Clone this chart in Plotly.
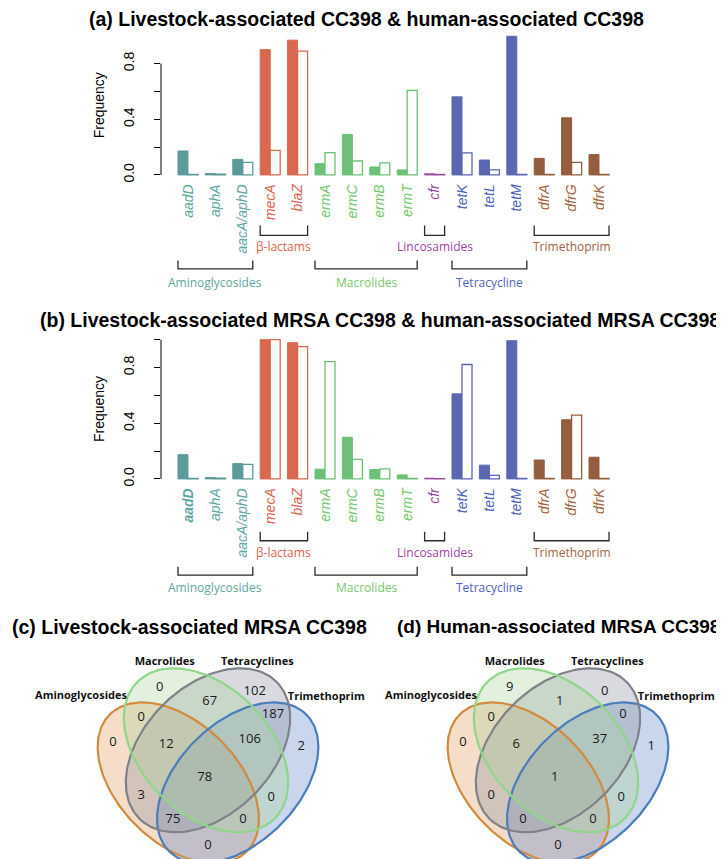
import numpy as np
import plotly.graph_objects as go

W, H = 724, 859

# ---------------- data ----------------
genes = ["aadD", "aphA", "aacA/aphD", "mecA", "blaZ", "ermA", "ermC", "ermB",
         "ermT", "cfr", "tetK", "tetL", "tetM", "dfrA", "dfrG", "dfrK"]
gene_class = ["Aminoglycosides"] * 3 + ["β-lactams"] * 2 + ["Macrolides"] * 4 + \
             ["Lincosamides"] + ["Tetracycline"] * 3 + ["Trimethoprim"] * 3

# (a) livestock-associated (filled) vs human-associated (open)
la_a = [0.172, 0.010, 0.112, 0.900, 0.968, 0.081, 0.291, 0.057,
        0.036, 0.008, 0.561, 0.107, 0.996, 0.119, 0.410, 0.146]
ha_a = [0.004, 0.005, 0.090, 0.176, 0.889, 0.160, 0.100, 0.086,
        0.607, 0.003, 0.158, 0.036, 0.003, 0.003, 0.090, 0.003]
# (b) MRSA only
la_b = [0.174, 0.010, 0.110, 1.000, 0.979, 0.070, 0.299, 0.067,
        0.029, 0.005, 0.611, 0.099, 0.993, 0.136, 0.425, 0.156]
ha_b = [0.003, 0.005, 0.105, 1.000, 0.950, 0.843, 0.141, 0.072,
        0.003, 0.002, 0.822, 0.026, 0.003, 0.003, 0.458, 0.003]

y_tickvals_a = [0.0, 0.2, 0.4, 0.6, 0.8]
y_ticktext_a = ["0.0", "", "0.4", "", "0.8"]
y_tickvals_b = [0.0, 0.2, 0.4, 0.6, 0.8, 1.0]
y_ticktext_b = ["0.0", "", "0.4", "", "0.8", ""]

# Venn regions and counts
venn_sets = ["Aminoglycosides", "Macrolides", "Tetracyclines", "Trimethoprim"]
venn_regions = ["M", "T", "MT", "TR", "AM", "A", "AMT", "MTR", "R", "AMTR",
                "AT", "MR", "ATR", "AMR", "AR"]
counts_c = [0, 102, 67, 187, 0, 0, 12, 106, 2, 78, 3, 0, 75, 0, 0]
counts_d = [9, 0, 1, 0, 0, 0, 6, 37, 1, 1, 0, 0, 0, 0, 0]

# ---------------- styles ----------------
bar_col = {"Aminoglycosides": "#5b9a9a", "β-lactams": "#d8684e", "Macrolides": "#6cc177",
           "Lincosamides": "#9a4f9c", "Tetracycline": "#5c67b2", "Trimethoprim": "#955d3e"}
lab_col = {"Aminoglycosides": "#5fa7a1", "β-lactams": "#e0634e", "Macrolides": "#78c86f",
           "Lincosamides": "#9b469f", "Tetracycline": "#4f5fbf", "Trimethoprim": "#a0643f"}
upper_row = {"β-lactams", "Lincosamides", "Trimethoprim"}

SANS = "Liberation Sans, Arial, sans-serif"
OPEN = "Open Sans, sans-serif"


def X(p):
    return p / W


def Y(p):
    return 1 - p / H


fig = go.Figure()
idx = list(range(len(genes)))
cols = [bar_col[c] for c in gene_class]
BW = 0.365
X_RANGE = [-0.985, 15.985]

panels = [
    dict(xa="x", ya="y", la=la_a, ha=ha_a, top=22.2, bot=172.9,
         tv=y_tickvals_a, tt=y_ticktext_a, bold_first=False,
         up=(218, 228, 239), low=(253, 261.5, 275), freq_y=97.5),
    dict(xa="x2", ya="y2", la=la_b, ha=ha_b, top=326.9, bot=477.6,
         tv=y_tickvals_b, tt=y_ticktext_b, bold_first=True,
         up=(525, 534, 546), low=(560, 568.5, 581), freq_y=402),
]

shapes = []
annotations = []
for k, p in enumerate(panels):
    fig.add_trace(go.Bar(x=idx, y=p["la"], width=BW, offset=-BW,
                         marker=dict(color=cols, line=dict(color=cols, width=1)),
                         xaxis=p["xa"], yaxis=p["ya"], hoverinfo="skip"))
    fig.add_trace(go.Bar(x=idx, y=p["ha"], width=BW, offset=0,
                         marker=dict(color="white", line=dict(color=cols, width=1.3)),
                         xaxis=p["xa"], yaxis=p["ya"], hoverinfo="skip"))
    ticktext = []
    for j, (g, c) in enumerate(zip(genes, gene_class)):
        t = f"<i>{g}</i>"
        if p["bold_first"] and j == 0:
            t = f"<b>{t}</b>"
        ticktext.append(f'<span style="color:{lab_col[c]}">{t}</span>')
    suffix = "" if k == 0 else "2"
    fig.layout["xaxis" + suffix] = dict(
        domain=[X(153), X(618)], range=X_RANGE, anchor=p["ya"],
        tickvals=idx, ticktext=ticktext, tickangle=-90, ticks="",
        showgrid=False, zeroline=False, showline=False,
        tickfont=dict(family=SANS, size=14))
    fig.layout["yaxis" + suffix] = dict(
        domain=[Y(p["bot"]), Y(p["top"])], range=[-0.04, 1.04], anchor=p["xa"],
        tickvals=p["tv"], ticktext=p["tt"], tickangle=-90, ticks="outside",
        ticklen=6, tickwidth=1, tickcolor="black", ticklabelstandoff=14,
        showgrid=False, zeroline=False, showline=False,
        tickfont=dict(family=SANS, size=14, color="black"))
    # R-style axis line
    shapes.append(dict(type="line", xref="paper", yref=p["ya"], x0=X(153), x1=X(153),
                       y0=p["tv"][0], y1=p["tv"][-1], line=dict(color="black", width=1)))
    annotations.append(dict(text="Frequency", x=X(91), y=Y(p["freq_y"]), xref="paper",
                            yref="paper", textangle=-90, showarrow=False,
                            xanchor="center", yanchor="middle",
                            font=dict(family=SANS, size=14, color="black")))
    # class brackets
    seen = []
    for c in gene_class:
        if c not in seen:
            seen.append(c)
    for c in seen:
        members = [j for j, gc in enumerate(gene_class) if gc == c]
        x0, x1 = members[0] - BW, members[-1] + BW
        yt, yb, yl = p["up"] if c in upper_row else p["low"]
        shapes.append(dict(type="path", xref=p["xa"], yref="paper",
                           path=f"M {x0},{Y(yt)} L {x0},{Y(yb)} L {x1},{Y(yb)} L {x1},{Y(yt)}",
                           line=dict(color="#2a2a2a", width=1.3)))
        annotations.append(dict(text=c, x=(members[0] + members[-1]) / 2, y=Y(yl),
                                xref=p["xa"], yref="paper", showarrow=False,
                                xanchor="center", yanchor="middle",
                                font=dict(family=OPEN, size=12, color=lab_col[c])))

# titles
titles = [("(a) Livestock-associated CC398 & human-associated CC398", 358, 11, 19.5),
          ("(b) Livestock-associated MRSA CC398 & human-associated MRSA CC398", 372, 313, 19.5),
          ("(c) Livestock-associated MRSA CC398", 181.5, 620, 19.5),
          ("(d) Human-associated MRSA CC398", 550, 620, 19)]
for t, x, y, fs in titles:
    annotations.append(dict(text=f"<b>{t}</b>", x=X(x), y=Y(y), xref="paper", yref="paper",
                            showarrow=False, xanchor="center", yanchor="middle",
                            font=dict(family=SANS, size=fs, color="black")))

# ---------------- Venn diagrams ----------------
ell_specs = {  # centre x, centre y, semi-major, semi-minor, angle (screen deg)
    "Aminoglycosides": (170.3, 776.7, 97, 60, 45),
    "Trimethoprim": (229.7, 776.7, 97, 60, 135),
    "Tetracyclines": (200.0, 744.0, 97, 64, 135),
    "Macrolides": (198.0, 744.0, 97, 64, 45),
}
ell_fill = {"Aminoglycosides": "rgba(229,155,98,0.34)", "Trimethoprim": "rgba(98,135,198,0.34)",
            "Tetracyclines": "rgba(141,146,160,0.34)", "Macrolides": "rgba(169,212,155,0.34)"}
ell_line = {"Aminoglycosides": "#d48a3e", "Trimethoprim": "#4a7ebb",
            "Tetracyclines": "#7f8388", "Macrolides": "#8fd68a"}
set_label_pos = {"Aminoglycosides": (73, 690), "Macrolides": (156.7, 656),
                 "Tetracyclines": (249.3, 656), "Trimethoprim": (318.3, 690.7)}
region_pos = {"M": (151.7, 681.7), "T": (246.7, 685), "MT": (201.7, 695), "TR": (265, 708.3),
              "AM": (133.3, 711.7), "A": (105, 736.7), "AMT": (158.3, 738.3),
              "MTR": (241.7, 733.3), "R": (293.3, 740), "AMTR": (196.7, 771.7),
              "AT": (133.3, 790), "MR": (263.3, 791.7), "ATR": (165, 813.3),
              "AMR": (235, 813.3), "AR": (200, 840)}


def ellipse(cx, cy, a, b, ang, n=240):
    t = np.linspace(0, 2 * np.pi, n)
    r = np.deg2rad(ang)
    xs = cx + a * np.cos(t) * np.cos(r) - b * np.sin(t) * np.sin(r)
    ys = cy + a * np.cos(t) * np.sin(r) + b * np.sin(t) * np.cos(r)
    return xs, ys


order = ["Aminoglycosides", "Trimethoprim", "Tetracyclines", "Macrolides"]
for shift, counts in [(0, counts_c), (350, counts_d)]:
    for s in order:
        cx, cy, a, b, ang = ell_specs[s]
        xs, ys = ellipse(cx + shift, cy, a, b, ang)
        fig.add_trace(go.Scatter(x=xs, y=ys, mode="lines", fill="toself",
                                 fillcolor=ell_fill[s], line=dict(width=0),
                                 xaxis="x3", yaxis="y3", hoverinfo="skip"))
    for s in order:
        cx, cy, a, b, ang = ell_specs[s]
        xs, ys = ellipse(cx + shift, cy, a, b, ang)
        fig.add_trace(go.Scatter(x=xs, y=ys, mode="lines",
                                 line=dict(color=ell_line[s], width=2.2),
                                 xaxis="x3", yaxis="y3", hoverinfo="skip"))
    fig.add_trace(go.Scatter(
        x=[region_pos[r][0] + shift for r in venn_regions],
        y=[region_pos[r][1] for r in venn_regions],
        text=[str(v) for v in counts], mode="text",
        textfont=dict(family=OPEN, size=13, color="#1a1a1a"),
        xaxis="x3", yaxis="y3", hoverinfo="skip", cliponaxis=False))
    fig.add_trace(go.Scatter(
        x=[set_label_pos[s][0] + shift for s in venn_sets],
        y=[set_label_pos[s][1] for s in venn_sets],
        text=[f"<b>{s}</b>" for s in venn_sets], mode="text",
        textfont=dict(family=OPEN, size=11, color="#111111"),
        xaxis="x3", yaxis="y3", hoverinfo="skip", cliponaxis=False))

fig.update_layout(
    xaxis3=dict(domain=[0, 1], range=[0, W], visible=False, anchor="y3"),
    yaxis3=dict(domain=[0, Y(600)], range=[H, 600], visible=False, anchor="x3"),
    width=W, height=H, margin=dict(l=0, r=0, t=0, b=0),
    paper_bgcolor="white", plot_bgcolor="rgba(0,0,0,0)",
    showlegend=False, shapes=shapes, annotations=annotations,
    barmode="overlay",
)

fig.write_html("out.html")
